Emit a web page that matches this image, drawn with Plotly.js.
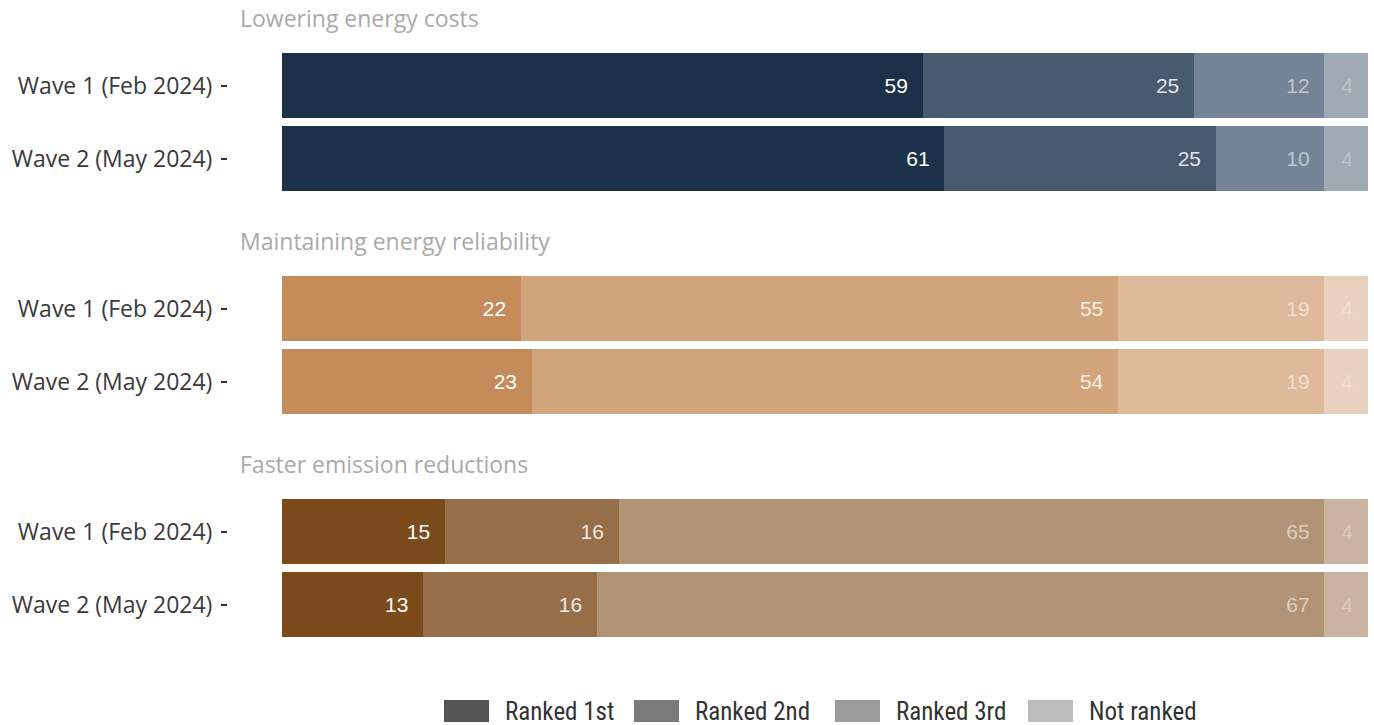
<!DOCTYPE html>
<html>
<head>
<meta charset="utf-8">
<script src="https://cdn.plot.ly/plotly-3.0.1.min.js"></script>
<style>html,body{margin:0;padding:0;background:#fff;}#chart{width:1374px;height:725px;}</style>
</head>
<body>
<div id="chart"></div>
<script>
// ---- data ----
const waves = ['Wave 1 (Feb 2024)', 'Wave 2 (May 2024)'];
const facetTitles = ['Lowering energy costs', 'Maintaining energy reliability', 'Faster emission reductions'];
const rankNames = ['Ranked 1st', 'Ranked 2nd', 'Ranked 3rd', 'Not ranked'];

const costRanked1st = [59, 61];
const costRanked2nd = [25, 25];
const costRanked3rd = [12, 10];
const costNotRanked = [4, 4];

const reliabilityRanked1st = [22, 23];
const reliabilityRanked2nd = [55, 54];
const reliabilityRanked3rd = [19, 19];
const reliabilityNotRanked = [4, 4];

const emissionRanked1st = [15, 13];
const emissionRanked2nd = [16, 16];
const emissionRanked3rd = [65, 67];
const emissionNotRanked = [4, 4];

// ---- styles ----
const facetColors = [
  ['#1b3149', '#475a6e', '#748496', '#a0aab4'],
  ['#c68b5a', '#d3a57c', '#deb99a', '#e8d1be'],
  ['#7b4b1b', '#966f48', '#b09475', '#cbb3a2']
];
const legendColors = ['#555555', '#7b7b7b', '#9c9c9c', '#bdbdbd'];
const labelAlpha = [1, 0.85, 0.55, 0.3];

const facetSeries = [
  [costRanked1st, costRanked2nd, costRanked3rd, costNotRanked],
  [reliabilityRanked1st, reliabilityRanked2nd, reliabilityRanked3rd, reliabilityNotRanked],
  [emissionRanked1st, emissionRanked2nd, emissionRanked3rd, emissionNotRanked]
];

const W = 1374, H = 725;
const ML = 228, MR = 6;
const plotW = W - ML - MR;
const px2x = p => (p - ML) / plotW;
const py2y = p => 1 - p / H;

const facetPx = [[49, 195], [272, 418], [495, 641]];
const facetTitlePx = [18, 241, 464];
const labelFont = 'Open Sans, sans-serif';

const traces = [];
facetSeries.forEach((series, f) => {
  const yaxisName = f === 0 ? 'y' : 'y' + (f + 1);
  series.forEach((vals, r) => {
    traces.push({
      type: 'bar',
      orientation: 'h',
      x: vals,
      y: waves,
      yaxis: yaxisName,
      xaxis: 'x',
      name: rankNames[r],
      showlegend: false,
      marker: {color: facetColors[f][r], line: {width: 0}},
      text: vals.map(v => String(v) + '\u00a0\u00a0'),
      textposition: 'inside',
      insidetextanchor: 'end',
      textangle: 0,
      constraintext: 'none',
      insidetextfont: {family: 'Liberation Sans, Arial, sans-serif', size: 21, color: 'rgba(255,255,255,' + labelAlpha[r] + ')'},
      hoverinfo: 'x+y+name',
      cliponaxis: false
    });
  });
});

const layout = {
  width: W, height: H,
  margin: {l: ML, r: MR, t: 0, b: 0},
  paper_bgcolor: '#fff',
  plot_bgcolor: '#fff',
  barmode: 'stack',
  bargap: 0.11,
  showlegend: false,
  font: {family: labelFont, color: '#333'},
  xaxis: {range: [-4.97, 100.03], showgrid: false, zeroline: false, showticklabels: false, ticks: '', showline: false, fixedrange: true},
  annotations: [],
  shapes: []
};

facetPx.forEach((ext, f) => {
  const key = f === 0 ? 'yaxis' : 'yaxis' + (f + 1);
  layout[key] = {
    domain: [py2y(ext[1]), py2y(ext[0])],
    anchor: 'x',
    type: 'category',
    autorange: 'reversed',
    showgrid: false, zeroline: false, showline: false,
    ticks: 'outside', ticklen: 6, tickwidth: 2, tickcolor: '#333',
    ticklabelstandoff: 4,
    tickfont: {family: labelFont, size: 23, color: '#3a3a3a'},
    fixedrange: true
  };
  layout.annotations.push({
    xref: 'paper', yref: 'paper',
    x: px2x(238), y: py2y(facetTitlePx[f]),
    xanchor: 'left', yanchor: 'middle',
    text: facetTitles[f], showarrow: false,
    font: {family: labelFont, size: 23, color: '#aaaaaa'}
  });
});

const legendSwatchX = [444, 634, 835, 1028];
const legendTop = 700, legendBottom = 722, swatchW = 45;
rankNames.forEach((name, i) => {
  layout.shapes.push({
    type: 'rect', xref: 'paper', yref: 'paper',
    x0: px2x(legendSwatchX[i]), x1: px2x(legendSwatchX[i] + swatchW),
    y0: py2y(legendBottom), y1: py2y(legendTop),
    fillcolor: legendColors[i], line: {width: 0}
  });
  layout.annotations.push({
    xref: 'paper', yref: 'paper',
    x: px2x(legendSwatchX[i] + swatchW + 14), y: py2y((legendTop + legendBottom) / 2),
    xanchor: 'left', yanchor: 'middle',
    text: name, showarrow: false,
    font: {family: 'Liberation Sans Narrow, Roboto Condensed, Lato, sans-serif', size: 25, color: '#333'}
  });
});

Plotly.newPlot('chart', traces, layout, {displayModeBar: false});
</script>
</body>
</html>
